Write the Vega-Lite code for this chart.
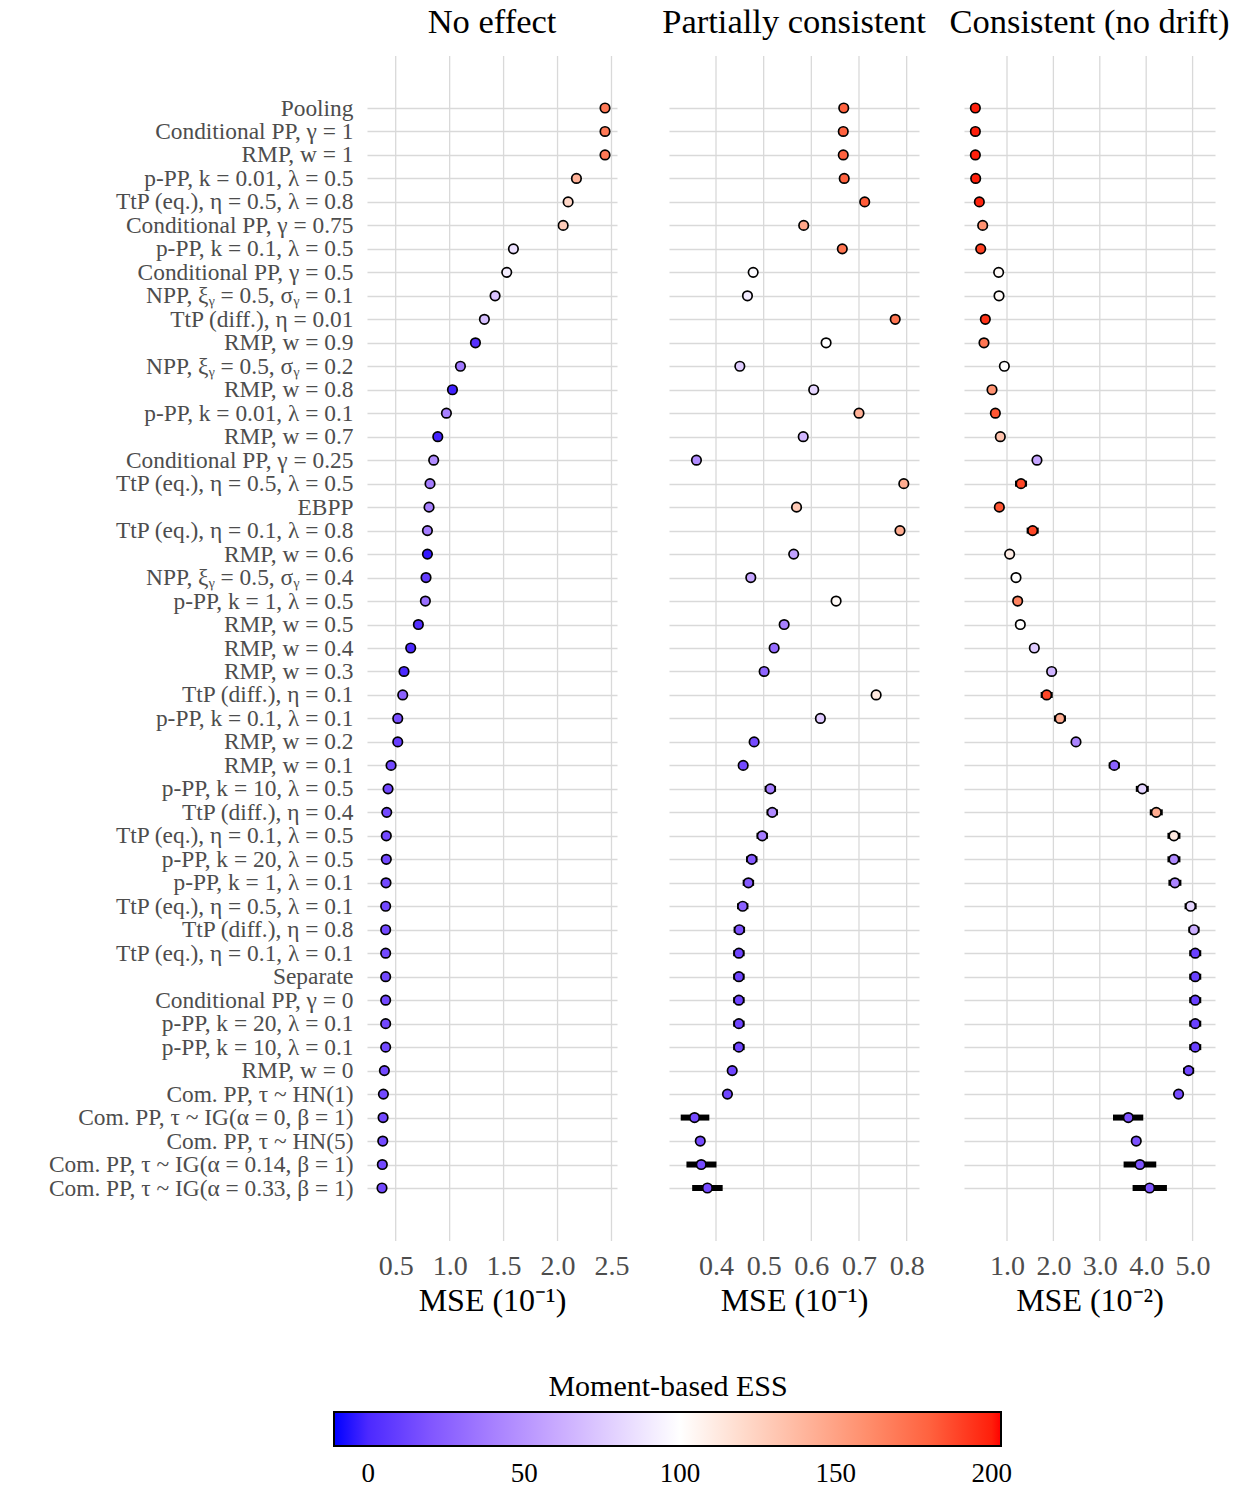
{
  "$schema": "https://vega.github.io/schema/vega-lite/v6.json",
  "padding": {"left": 48, "top": 4, "right": 5, "bottom": 0},
  "background": "white",
  "bounds": "flush",
  "spacing": 52,
  "config": {
    "font": "Liberation Serif",
    "view": {"stroke": null},
    "axis": {"domain": false, "ticks": false, "gridColor": "#d9d9d9", "gridWidth": 1.3, "labelColor": "#4d4d4d", "titleColor": "black", "titleFontWeight": "normal"},
    "title": {"fontSize": 34.5, "fontWeight": "normal", "color": "black", "offset": 15},
    "legend": {"labelColor": "black", "titleColor": "black", "titleFontWeight": "normal"}
  },
  "datasets": {
    "ticks": [
      {"p": "A", "t": 0.5}, {"p": "A", "t": 1.0}, {"p": "A", "t": 1.5}, {"p": "A", "t": 2.0}, {"p": "A", "t": 2.5},
      {"p": "B", "t": 0.4}, {"p": "B", "t": 0.5}, {"p": "B", "t": 0.6}, {"p": "B", "t": 0.7}, {"p": "B", "t": 0.8},
      {"p": "C", "t": 1.0}, {"p": "C", "t": 2.0}, {"p": "C", "t": 3.0}, {"p": "C", "t": 4.0}, {"p": "C", "t": 5.0}
    ],
    "methods": [
      {"i": 1, "m": "Pooling"},
      {"i": 2, "m": "Conditional PP, γ = 1"},
      {"i": 3, "m": "RMP, w = 1"},
      {"i": 4, "m": "p-PP, k = 0.01, λ = 0.5"},
      {"i": 5, "m": "TtP (eq.), η = 0.5, λ = 0.8"},
      {"i": 6, "m": "Conditional PP, γ = 0.75"},
      {"i": 7, "m": "p-PP, k = 0.1, λ = 0.5"},
      {"i": 8, "m": "Conditional PP, γ = 0.5"},
      {"i": 9, "m": "NPP, ξᵧ = 0.5, σᵧ = 0.1"},
      {"i": 10, "m": "TtP (diff.), η = 0.01"},
      {"i": 11, "m": "RMP, w = 0.9"},
      {"i": 12, "m": "NPP, ξᵧ = 0.5, σᵧ = 0.2"},
      {"i": 13, "m": "RMP, w = 0.8"},
      {"i": 14, "m": "p-PP, k = 0.01, λ = 0.1"},
      {"i": 15, "m": "RMP, w = 0.7"},
      {"i": 16, "m": "Conditional PP, γ = 0.25"},
      {"i": 17, "m": "TtP (eq.), η = 0.5, λ = 0.5"},
      {"i": 18, "m": "EBPP"},
      {"i": 19, "m": "TtP (eq.), η = 0.1, λ = 0.8"},
      {"i": 20, "m": "RMP, w = 0.6"},
      {"i": 21, "m": "NPP, ξᵧ = 0.5, σᵧ = 0.4"},
      {"i": 22, "m": "p-PP, k = 1, λ = 0.5"},
      {"i": 23, "m": "RMP, w = 0.5"},
      {"i": 24, "m": "RMP, w = 0.4"},
      {"i": 25, "m": "RMP, w = 0.3"},
      {"i": 26, "m": "TtP (diff.), η = 0.1"},
      {"i": 27, "m": "p-PP, k = 0.1, λ = 0.1"},
      {"i": 28, "m": "RMP, w = 0.2"},
      {"i": 29, "m": "RMP, w = 0.1"},
      {"i": 30, "m": "p-PP, k = 10, λ = 0.5"},
      {"i": 31, "m": "TtP (diff.), η = 0.4"},
      {"i": 32, "m": "TtP (eq.), η = 0.1, λ = 0.5"},
      {"i": 33, "m": "p-PP, k = 20, λ = 0.5"},
      {"i": 34, "m": "p-PP, k = 1, λ = 0.1"},
      {"i": 35, "m": "TtP (eq.), η = 0.5, λ = 0.1"},
      {"i": 36, "m": "TtP (diff.), η = 0.8"},
      {"i": 37, "m": "TtP (eq.), η = 0.1, λ = 0.1"},
      {"i": 38, "m": "Separate"},
      {"i": 39, "m": "Conditional PP, γ = 0"},
      {"i": 40, "m": "p-PP, k = 20, λ = 0.1"},
      {"i": 41, "m": "p-PP, k = 10, λ = 0.1"},
      {"i": 42, "m": "RMP, w = 0"},
      {"i": 43, "m": "Com. PP, τ ~ HN(1)"},
      {"i": 44, "m": "Com. PP, τ ~ IG(α = 0, β = 1)"},
      {"i": 45, "m": "Com. PP, τ ~ HN(5)"},
      {"i": 46, "m": "Com. PP, τ ~ IG(α = 0.14, β = 1)"},
      {"i": 47, "m": "Com. PP, τ ~ IG(α = 0.33, β = 1)"}
    ],
    "rows": [
      {"p": "A", "i": 1, "x": 2.44, "lo": 2.43, "hi": 2.45, "ess": 170},
      {"p": "A", "i": 2, "x": 2.44, "lo": 2.43, "hi": 2.45, "ess": 170},
      {"p": "A", "i": 3, "x": 2.44, "lo": 2.43, "hi": 2.45, "ess": 170},
      {"p": "A", "i": 4, "x": 2.175, "lo": 2.165, "hi": 2.185, "ess": 142},
      {"p": "A", "i": 5, "x": 2.098, "lo": 2.088, "hi": 2.108, "ess": 122},
      {"p": "A", "i": 6, "x": 2.052, "lo": 2.042, "hi": 2.062, "ess": 128},
      {"p": "A", "i": 7, "x": 1.591, "lo": 1.581, "hi": 1.601, "ess": 86},
      {"p": "A", "i": 8, "x": 1.529, "lo": 1.519, "hi": 1.539, "ess": 92},
      {"p": "A", "i": 9, "x": 1.421, "lo": 1.411, "hi": 1.431, "ess": 72},
      {"p": "A", "i": 10, "x": 1.322, "lo": 1.312, "hi": 1.332, "ess": 70},
      {"p": "A", "i": 11, "x": 1.239, "lo": 1.229, "hi": 1.249, "ess": 3},
      {"p": "A", "i": 12, "x": 1.1, "lo": 1.09, "hi": 1.11, "ess": 36},
      {"p": "A", "i": 13, "x": 1.026, "lo": 1.016, "hi": 1.036, "ess": -3},
      {"p": "A", "i": 14, "x": 0.97, "lo": 0.96, "hi": 0.98, "ess": 40},
      {"p": "A", "i": 15, "x": 0.89, "lo": 0.88, "hi": 0.9, "ess": -2},
      {"p": "A", "i": 16, "x": 0.852, "lo": 0.842, "hi": 0.862, "ess": 46},
      {"p": "A", "i": 17, "x": 0.818, "lo": 0.808, "hi": 0.828, "ess": 38},
      {"p": "A", "i": 18, "x": 0.809, "lo": 0.799, "hi": 0.819, "ess": 40},
      {"p": "A", "i": 19, "x": 0.794, "lo": 0.784, "hi": 0.804, "ess": 38},
      {"p": "A", "i": 20, "x": 0.794, "lo": 0.784, "hi": 0.804, "ess": -6},
      {"p": "A", "i": 21, "x": 0.781, "lo": 0.771, "hi": 0.791, "ess": 8},
      {"p": "A", "i": 22, "x": 0.775, "lo": 0.765, "hi": 0.785, "ess": 32},
      {"p": "A", "i": 23, "x": 0.71, "lo": 0.7, "hi": 0.72, "ess": 2},
      {"p": "A", "i": 24, "x": 0.639, "lo": 0.629, "hi": 0.649, "ess": 0},
      {"p": "A", "i": 25, "x": 0.577, "lo": 0.567, "hi": 0.587, "ess": 0},
      {"p": "A", "i": 26, "x": 0.565, "lo": 0.555, "hi": 0.575, "ess": 25},
      {"p": "A", "i": 27, "x": 0.519, "lo": 0.509, "hi": 0.529, "ess": 17},
      {"p": "A", "i": 28, "x": 0.519, "lo": 0.509, "hi": 0.529, "ess": 9},
      {"p": "A", "i": 29, "x": 0.457, "lo": 0.447, "hi": 0.467, "ess": 14},
      {"p": "A", "i": 30, "x": 0.429, "lo": 0.419, "hi": 0.439, "ess": 14},
      {"p": "A", "i": 31, "x": 0.417, "lo": 0.407, "hi": 0.427, "ess": 14},
      {"p": "A", "i": 32, "x": 0.413, "lo": 0.403, "hi": 0.423, "ess": 14},
      {"p": "A", "i": 33, "x": 0.413, "lo": 0.403, "hi": 0.423, "ess": 14},
      {"p": "A", "i": 34, "x": 0.41, "lo": 0.4, "hi": 0.42, "ess": 14},
      {"p": "A", "i": 35, "x": 0.407, "lo": 0.397, "hi": 0.417, "ess": 14},
      {"p": "A", "i": 36, "x": 0.407, "lo": 0.397, "hi": 0.417, "ess": 14},
      {"p": "A", "i": 37, "x": 0.407, "lo": 0.397, "hi": 0.417, "ess": 14},
      {"p": "A", "i": 38, "x": 0.407, "lo": 0.397, "hi": 0.417, "ess": 14},
      {"p": "A", "i": 39, "x": 0.407, "lo": 0.397, "hi": 0.417, "ess": 14},
      {"p": "A", "i": 40, "x": 0.407, "lo": 0.397, "hi": 0.417, "ess": 14},
      {"p": "A", "i": 41, "x": 0.407, "lo": 0.397, "hi": 0.417, "ess": 14},
      {"p": "A", "i": 42, "x": 0.395, "lo": 0.385, "hi": 0.405, "ess": 14},
      {"p": "A", "i": 43, "x": 0.386, "lo": 0.376, "hi": 0.396, "ess": 14},
      {"p": "A", "i": 44, "x": 0.383, "lo": 0.373, "hi": 0.393, "ess": 14},
      {"p": "A", "i": 45, "x": 0.38, "lo": 0.37, "hi": 0.39, "ess": 14},
      {"p": "A", "i": 46, "x": 0.376, "lo": 0.366, "hi": 0.386, "ess": 14},
      {"p": "A", "i": 47, "x": 0.373, "lo": 0.363, "hi": 0.383, "ess": 14},
      {"p": "B", "i": 1, "x": 0.668, "lo": 0.663, "hi": 0.673, "ess": 180},
      {"p": "B", "i": 2, "x": 0.667, "lo": 0.662, "hi": 0.672, "ess": 180},
      {"p": "B", "i": 3, "x": 0.667, "lo": 0.662, "hi": 0.672, "ess": 180},
      {"p": "B", "i": 4, "x": 0.669, "lo": 0.664, "hi": 0.674, "ess": 180},
      {"p": "B", "i": 5, "x": 0.712, "lo": 0.707, "hi": 0.717, "ess": 183},
      {"p": "B", "i": 6, "x": 0.584, "lo": 0.579, "hi": 0.589, "ess": 148},
      {"p": "B", "i": 7, "x": 0.665, "lo": 0.66, "hi": 0.67, "ess": 172},
      {"p": "B", "i": 8, "x": 0.478, "lo": 0.473, "hi": 0.483, "ess": 98},
      {"p": "B", "i": 9, "x": 0.466, "lo": 0.461, "hi": 0.471, "ess": 91},
      {"p": "B", "i": 10, "x": 0.776, "lo": 0.771, "hi": 0.781, "ess": 172},
      {"p": "B", "i": 11, "x": 0.631, "lo": 0.626, "hi": 0.636, "ess": 100},
      {"p": "B", "i": 12, "x": 0.45, "lo": 0.445, "hi": 0.455, "ess": 77},
      {"p": "B", "i": 13, "x": 0.605, "lo": 0.6, "hi": 0.61, "ess": 81},
      {"p": "B", "i": 14, "x": 0.7, "lo": 0.695, "hi": 0.705, "ess": 142},
      {"p": "B", "i": 15, "x": 0.583, "lo": 0.578, "hi": 0.588, "ess": 66},
      {"p": "B", "i": 16, "x": 0.359, "lo": 0.354, "hi": 0.364, "ess": 46},
      {"p": "B", "i": 17, "x": 0.794, "lo": 0.789, "hi": 0.799, "ess": 145},
      {"p": "B", "i": 18, "x": 0.569, "lo": 0.564, "hi": 0.574, "ess": 129},
      {"p": "B", "i": 19, "x": 0.786, "lo": 0.781, "hi": 0.791, "ess": 145},
      {"p": "B", "i": 20, "x": 0.563, "lo": 0.558, "hi": 0.568, "ess": 56},
      {"p": "B", "i": 21, "x": 0.473, "lo": 0.468, "hi": 0.478, "ess": 58},
      {"p": "B", "i": 22, "x": 0.652, "lo": 0.647, "hi": 0.657, "ess": 103},
      {"p": "B", "i": 23, "x": 0.543, "lo": 0.538, "hi": 0.548, "ess": 40},
      {"p": "B", "i": 24, "x": 0.522, "lo": 0.517, "hi": 0.527, "ess": 30},
      {"p": "B", "i": 25, "x": 0.501, "lo": 0.496, "hi": 0.506, "ess": 27},
      {"p": "B", "i": 26, "x": 0.736, "lo": 0.731, "hi": 0.741, "ess": 112},
      {"p": "B", "i": 27, "x": 0.619, "lo": 0.614, "hi": 0.624, "ess": 75},
      {"p": "B", "i": 28, "x": 0.48, "lo": 0.475, "hi": 0.485, "ess": 15},
      {"p": "B", "i": 29, "x": 0.457, "lo": 0.452, "hi": 0.462, "ess": 14},
      {"p": "B", "i": 30, "x": 0.514, "lo": 0.502, "hi": 0.526, "ess": 38},
      {"p": "B", "i": 31, "x": 0.518, "lo": 0.506, "hi": 0.53, "ess": 45},
      {"p": "B", "i": 32, "x": 0.497, "lo": 0.485, "hi": 0.509, "ess": 38},
      {"p": "B", "i": 33, "x": 0.475, "lo": 0.463, "hi": 0.487, "ess": 22},
      {"p": "B", "i": 34, "x": 0.468, "lo": 0.456, "hi": 0.48, "ess": 22},
      {"p": "B", "i": 35, "x": 0.456, "lo": 0.444, "hi": 0.468, "ess": 25},
      {"p": "B", "i": 36, "x": 0.449, "lo": 0.437, "hi": 0.461, "ess": 18},
      {"p": "B", "i": 37, "x": 0.448, "lo": 0.436, "hi": 0.46, "ess": 12},
      {"p": "B", "i": 38, "x": 0.448, "lo": 0.436, "hi": 0.46, "ess": 12},
      {"p": "B", "i": 39, "x": 0.448, "lo": 0.436, "hi": 0.46, "ess": 12},
      {"p": "B", "i": 40, "x": 0.448, "lo": 0.436, "hi": 0.46, "ess": 12},
      {"p": "B", "i": 41, "x": 0.448, "lo": 0.436, "hi": 0.46, "ess": 12},
      {"p": "B", "i": 42, "x": 0.434, "lo": 0.428, "hi": 0.44, "ess": 12},
      {"p": "B", "i": 43, "x": 0.424, "lo": 0.418, "hi": 0.43, "ess": 12},
      {"p": "B", "i": 44, "x": 0.355, "lo": 0.326, "hi": 0.386, "ess": 15},
      {"p": "B", "i": 45, "x": 0.367, "lo": 0.361, "hi": 0.373, "ess": 15},
      {"p": "B", "i": 46, "x": 0.369, "lo": 0.338, "hi": 0.401, "ess": 15},
      {"p": "B", "i": 47, "x": 0.382, "lo": 0.35, "hi": 0.414, "ess": 15},
      {"p": "C", "i": 1, "x": 0.318, "lo": 0.258, "hi": 0.378, "ess": 200},
      {"p": "C", "i": 2, "x": 0.318, "lo": 0.258, "hi": 0.378, "ess": 200},
      {"p": "C", "i": 3, "x": 0.318, "lo": 0.258, "hi": 0.378, "ess": 200},
      {"p": "C", "i": 4, "x": 0.325, "lo": 0.265, "hi": 0.385, "ess": 200},
      {"p": "C", "i": 5, "x": 0.404, "lo": 0.344, "hi": 0.464, "ess": 199},
      {"p": "C", "i": 6, "x": 0.476, "lo": 0.416, "hi": 0.536, "ess": 158},
      {"p": "C", "i": 7, "x": 0.433, "lo": 0.373, "hi": 0.493, "ess": 192},
      {"p": "C", "i": 8, "x": 0.82, "lo": 0.76, "hi": 0.88, "ess": 103},
      {"p": "C", "i": 9, "x": 0.828, "lo": 0.768, "hi": 0.888, "ess": 103},
      {"p": "C", "i": 10, "x": 0.533, "lo": 0.473, "hi": 0.593, "ess": 196},
      {"p": "C", "i": 11, "x": 0.504, "lo": 0.444, "hi": 0.564, "ess": 172},
      {"p": "C", "i": 12, "x": 0.943, "lo": 0.883, "hi": 1.003, "ess": 100},
      {"p": "C", "i": 13, "x": 0.677, "lo": 0.617, "hi": 0.737, "ess": 158},
      {"p": "C", "i": 14, "x": 0.749, "lo": 0.689, "hi": 0.809, "ess": 185},
      {"p": "C", "i": 15, "x": 0.856, "lo": 0.796, "hi": 0.916, "ess": 133},
      {"p": "C", "i": 16, "x": 1.646, "lo": 1.586, "hi": 1.706, "ess": 58},
      {"p": "C", "i": 17, "x": 1.302, "lo": 1.172, "hi": 1.432, "ess": 190},
      {"p": "C", "i": 18, "x": 0.835, "lo": 0.775, "hi": 0.895, "ess": 185},
      {"p": "C", "i": 19, "x": 1.553, "lo": 1.423, "hi": 1.683, "ess": 190},
      {"p": "C", "i": 20, "x": 1.057, "lo": 0.997, "hi": 1.117, "ess": 110},
      {"p": "C", "i": 21, "x": 1.194, "lo": 1.134, "hi": 1.254, "ess": 100},
      {"p": "C", "i": 22, "x": 1.23, "lo": 1.17, "hi": 1.29, "ess": 165},
      {"p": "C", "i": 23, "x": 1.287, "lo": 1.227, "hi": 1.347, "ess": 100},
      {"p": "C", "i": 24, "x": 1.589, "lo": 1.529, "hi": 1.649, "ess": 76},
      {"p": "C", "i": 25, "x": 1.962, "lo": 1.902, "hi": 2.022, "ess": 65},
      {"p": "C", "i": 26, "x": 1.855, "lo": 1.725, "hi": 1.985, "ess": 190},
      {"p": "C", "i": 27, "x": 2.142, "lo": 2.012, "hi": 2.272, "ess": 145},
      {"p": "C", "i": 28, "x": 2.487, "lo": 2.417, "hi": 2.557, "ess": 42},
      {"p": "C", "i": 29, "x": 3.312, "lo": 3.192, "hi": 3.432, "ess": 25},
      {"p": "C", "i": 30, "x": 3.916, "lo": 3.776, "hi": 4.056, "ess": 80},
      {"p": "C", "i": 31, "x": 4.217, "lo": 4.077, "hi": 4.357, "ess": 145},
      {"p": "C", "i": 32, "x": 4.598, "lo": 4.458, "hi": 4.738, "ess": 112},
      {"p": "C", "i": 33, "x": 4.598, "lo": 4.458, "hi": 4.738, "ess": 45},
      {"p": "C", "i": 34, "x": 4.619, "lo": 4.479, "hi": 4.759, "ess": 42},
      {"p": "C", "i": 35, "x": 4.957, "lo": 4.827, "hi": 5.087, "ess": 80},
      {"p": "C", "i": 36, "x": 5.029, "lo": 4.909, "hi": 5.149, "ess": 62},
      {"p": "C", "i": 37, "x": 5.057, "lo": 4.927, "hi": 5.187, "ess": 10},
      {"p": "C", "i": 38, "x": 5.057, "lo": 4.927, "hi": 5.187, "ess": 10},
      {"p": "C", "i": 39, "x": 5.057, "lo": 4.927, "hi": 5.187, "ess": 10},
      {"p": "C", "i": 40, "x": 5.057, "lo": 4.927, "hi": 5.187, "ess": 10},
      {"p": "C", "i": 41, "x": 5.057, "lo": 4.927, "hi": 5.187, "ess": 10},
      {"p": "C", "i": 42, "x": 4.914, "lo": 4.794, "hi": 5.034, "ess": 13},
      {"p": "C", "i": 43, "x": 4.698, "lo": 4.618, "hi": 4.778, "ess": 15},
      {"p": "C", "i": 44, "x": 3.614, "lo": 3.284, "hi": 3.937, "ess": 18},
      {"p": "C", "i": 45, "x": 3.786, "lo": 3.716, "hi": 3.856, "ess": 18},
      {"p": "C", "i": 46, "x": 3.865, "lo": 3.513, "hi": 4.217, "ess": 18},
      {"p": "C", "i": 47, "x": 4.074, "lo": 3.707, "hi": 4.447, "ess": 18}
    ]
  },
  "data": {"name": "rows"},
  "transform": [{"lookup": "i", "from": {"data": {"name": "methods"}, "key": "i", "fields": ["m"]}}],
  "resolve": {"scale": {"x": "independent", "y": "independent", "fill": "shared"}},
  "hconcat": [
    {
      "width": 250, "height": 1185,
      "title": "No effect",
      "layer": [
        {"data": {"name": "ticks"},
         "transform": [{"filter": "datum.p == 'A'"}],
         "mark": {"type": "rule", "color": "#d9d9d9", "strokeWidth": 1.3},
         "encoding": {"x": {"field": "t", "type": "quantitative", "scale": {"domain": [0.234, 2.551], "nice": false, "zero": false},
                            "axis": {"values": [0.5, 1.0, 1.5, 2.0, 2.5], "format": ".1f", "title": "MSE (10⁻¹)", "labelFontSize": 28, "labelPadding": 11, "titleFontSize": 32, "titlePadding": 5, "labelOverlap": false, "grid": false}}}},
        {"transform": [{"filter": "datum.p == 'A'"}],
         "mark": {"type": "rule", "color": "black", "strokeWidth": 6},
         "encoding": {"y": {"field": "m", "type": "nominal", "sort": {"field": "i", "op": "min"}, "scale": {"type": "point", "padding": 0, "range": [52, 1132]},
                            "axis": {"title": null, "grid": true, "labelFontSize": 23.4, "labelPadding": 14, "labelLimit": 600}},
                      "x": {"field": "lo", "type": "quantitative"},
                      "x2": {"field": "hi"}}},
        {"transform": [{"filter": "datum.p == 'A'"}],
         "mark": {"type": "circle", "size": 90, "stroke": "black", "strokeWidth": 1.7, "opacity": 1},
         "encoding": {"y": {"field": "m", "type": "nominal", "sort": {"field": "i", "op": "min"}},
                      "x": {"field": "x", "type": "quantitative"},
                      "fill": {"field": "ess", "type": "quantitative",
                               "scale": {"domain": [-11, 100, 203], "range": ["#0000ff", "#ffffff", "#ff0000"], "interpolate": "lab"},
                               "legend": {"orient": "none", "legendX": -33, "legendY": 1316, "direction": "horizontal", "title": "Moment-based ESS", "titleLimit": 800, "titleFontSize": 30, "titleAnchor": "middle", "titlePadding": 10, "gradientLength": 667, "gradientThickness": 34, "gradientStrokeColor": "black", "gradientStrokeWidth": 2, "values": [0, 50, 100, 150, 200], "labelFontSize": 27, "labelOffset": 15}}}}
      ]
    },
    {
      "bounds": "flush",
      "spacing": 45,
      "resolve": {"scale": {"x": "independent", "y": "independent", "fill": "shared"}},
      "hconcat": [
        {
          "width": 250, "height": 1185,
          "title": "Partially consistent",
          "layer": [
            {"data": {"name": "ticks"},
             "transform": [{"filter": "datum.p == 'B'"}],
             "mark": {"type": "rule", "color": "#d9d9d9", "strokeWidth": 1.3},
             "encoding": {"x": {"field": "t", "type": "quantitative", "scale": {"domain": [0.3014, 0.8259], "nice": false, "zero": false},
                                "axis": {"values": [0.4, 0.5, 0.6, 0.7, 0.8], "format": ".1f", "title": "MSE (10⁻¹)", "labelFontSize": 28, "labelPadding": 11, "titleFontSize": 32, "titlePadding": 5, "labelOverlap": false, "grid": false}}}},
            {"transform": [{"filter": "datum.p == 'B'"}],
             "mark": {"type": "rule", "color": "black", "strokeWidth": 6},
             "encoding": {"y": {"field": "m", "type": "nominal", "sort": {"field": "i", "op": "min"}, "scale": {"type": "point", "padding": 0, "range": [52, 1132]},
                                "axis": {"title": null, "grid": true, "labels": false}},
                          "x": {"field": "lo", "type": "quantitative"},
                          "x2": {"field": "hi"}}},
            {"transform": [{"filter": "datum.p == 'B'"}],
             "mark": {"type": "circle", "size": 90, "stroke": "black", "strokeWidth": 1.7, "opacity": 1},
             "encoding": {"y": {"field": "m", "type": "nominal", "sort": {"field": "i", "op": "min"}},
                          "x": {"field": "x", "type": "quantitative"},
                          "fill": {"field": "ess", "type": "quantitative",
                                   "scale": {"domain": [-11, 100, 203], "range": ["#0000ff", "#ffffff", "#ff0000"], "interpolate": "lab"}}}}
          ]
        },
        {
          "width": 251, "height": 1185,
          "title": "Consistent (no drift)",
          "layer": [
            {"data": {"name": "ticks"},
             "transform": [{"filter": "datum.p == 'C'"}],
             "mark": {"type": "rule", "color": "#d9d9d9", "strokeWidth": 1.3},
             "encoding": {"x": {"field": "t", "type": "quantitative", "scale": {"domain": [0.0733, 5.483], "nice": false, "zero": false},
                                "axis": {"values": [1, 2, 3, 4, 5], "format": ".1f", "title": "MSE (10⁻²)", "labelFontSize": 28, "labelPadding": 11, "titleFontSize": 32, "titlePadding": 5, "labelOverlap": false, "grid": false}}}},
            {"transform": [{"filter": "datum.p == 'C'"}],
             "mark": {"type": "rule", "color": "black", "strokeWidth": 6},
             "encoding": {"y": {"field": "m", "type": "nominal", "sort": {"field": "i", "op": "min"}, "scale": {"type": "point", "padding": 0, "range": [52, 1132]},
                                "axis": {"title": null, "grid": true, "labels": false}},
                          "x": {"field": "lo", "type": "quantitative"},
                          "x2": {"field": "hi"}}},
            {"transform": [{"filter": "datum.p == 'C'"}],
             "mark": {"type": "circle", "size": 90, "stroke": "black", "strokeWidth": 1.7, "opacity": 1},
             "encoding": {"y": {"field": "m", "type": "nominal", "sort": {"field": "i", "op": "min"}},
                          "x": {"field": "x", "type": "quantitative"},
                          "fill": {"field": "ess", "type": "quantitative",
                                   "scale": {"domain": [-11, 100, 203], "range": ["#0000ff", "#ffffff", "#ff0000"], "interpolate": "lab"}}}}
          ]
        }
      ]
    }
  ]
}
